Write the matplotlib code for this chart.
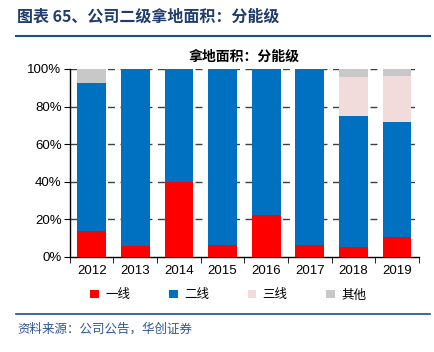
import matplotlib
matplotlib.use("Agg")
import matplotlib.pyplot as plt
from matplotlib.lines import Line2D
from matplotlib.patches import Patch
import numpy as np

plt.rcParams['font.family'] = ['Noto Sans CJK SC', 'DejaVu Sans']

years = ['2012', '2013', '2014', '2015', '2016', '2017', '2018', '2019']
tier1 = [14.0, 6.0, 40.0, 6.5, 22.5, 6.3, 5.3, 10.5]
tier2 = [78.7, 94.0, 60.0, 93.5, 77.5, 93.7, 69.9, 61.5]
tier3 = [0.0, 0.0, 0.0, 0.0, 0.0, 0.0, 20.7, 24.3]
other = [7.3, 0.0, 0.0, 0.0, 0.0, 0.0, 4.1, 3.7]
series_names = ['一线', '二线', '三线', '其他']
colors = ['#FF0000', '#0070C0', '#F2DCDB', '#C8C8C8']

fig = plt.figure(figsize=(4.34, 3.52), dpi=100)
ax = fig.add_axes([0.161, 0.270, 0.804, 0.534])

x = np.arange(len(years))
bottom = np.zeros(len(years))
for vals, c, name in zip([tier1, tier2, tier3, other], colors, series_names):
    v = np.array(vals)
    ax.bar(x, v, 0.66, bottom=bottom, color=c, edgecolor='none', label=name, zorder=3)
    bottom += v

ax.set_ylim(0, 100)
ax.set_xlim(-0.5, len(years) - 0.5)
ax.set_yticks(np.arange(0, 101, 20))
ax.set_yticklabels([f'{v}%' for v in range(0, 101, 20)], fontsize=9.5, family=['Liberation Sans', 'DejaVu Sans'])
ax.set_xticks(x)
ax.set_xticklabels(years, fontsize=9.5, family=['Liberation Sans', 'DejaVu Sans'])
ax.tick_params(axis='x', length=0, pad=6)
ax.set_xticks(np.arange(-0.5, len(years), 1), minor=True)
ax.tick_params(axis='x', which='minor', length=4, direction='out', color='black')
ax.tick_params(axis='y', length=4, direction='out', pad=2)
for yv in range(20, 101, 20):
    ax.axhline(yv, color='#404040', linestyle=(0, (5, 4)), linewidth=1.0, zorder=1)
for s in ['top', 'right']:
    ax.spines[s].set_visible(False)
ax.spines['left'].set_linewidth(1.0)
ax.spines['bottom'].set_linewidth(1.0)

ax.set_title('拿地面积：分能级', fontsize=10, fontweight='bold', pad=6)

handles = [Patch(facecolor=c, edgecolor='none') for c in colors]
fig.legend(handles, series_names, loc='center', bbox_to_anchor=(0.526, 0.162), ncol=4,
           frameon=False, fontsize=9, handlelength=0.7, handleheight=0.7,
           handletextpad=0.5, columnspacing=3.1)

fig.text(0.04, 0.938, '图表 65、公司二级拿地面积：分能级', fontsize=11.5, fontweight='bold', color='#1F3C6E')
fig.add_artist(Line2D([0.037, 0.99], [0.897, 0.897], color='#1F4E8C', linewidth=1.5))
fig.add_artist(Line2D([0.037, 0.99], [0.108, 0.108], color='#1F4E8C', linewidth=1.2))
fig.text(0.04, 0.055, '资料来源：公司公告，华创证券', fontsize=9, style='italic', color='#2F5597')

fig.savefig('out.png', dpi=100)
